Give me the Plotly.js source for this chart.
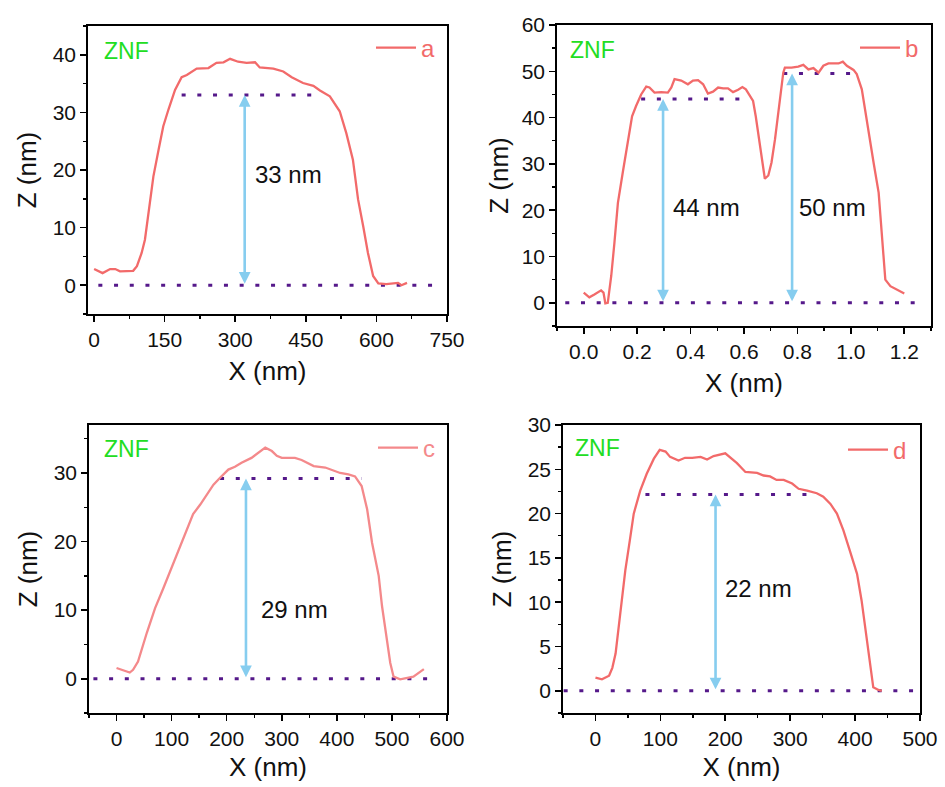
<!DOCTYPE html>
<html>
<head>
<meta charset="utf-8">
<script src="https://cdn.plot.ly/plotly-3.0.1.min.js"></script>
<style>html,body{margin:0;padding:0;background:#fff;}#chart{width:945px;height:787px;}</style>
</head>
<body>
<div id="chart"></div>
<script>
// ---------- Panel a ----------
const aX = [0, 18, 34, 45, 55, 83, 91, 101, 108, 115, 126, 137, 147, 158, 172, 186, 197, 218, 243, 260, 275, 289, 306, 324, 342, 352, 381, 402, 420, 444, 466, 480, 501, 522, 536, 550, 561, 572, 582, 593, 604, 621, 646, 653, 665];
const aZ = [2.8, 2.1, 2.8, 2.8, 2.4, 2.5, 3.3, 5.6, 7.9, 12.5, 18.9, 23.5, 27.6, 30.5, 33.9, 36.1, 36.5, 37.6, 37.7, 38.6, 38.7, 39.3, 38.8, 38.6, 38.7, 37.8, 37.6, 37.1, 36.1, 35.1, 34.6, 33.8, 32.8, 30.2, 26.4, 21.8, 14.9, 10.2, 5.6, 1.6, 0.3, 0.2, 0.4, 0.0, 0.4];
const aBaseX = [9, 727], aBaseZ = [0, 0];
const aTopX = [186, 466], aTopZ = [33, 33];
const aArrowX = [320], aArrowLow = [0], aArrowHigh = [33];
const aLabel = ['33 nm'], aLabelX = [338], aLabelZ = [19.2];
const aZnfX = [16], aZnfZ = [40.6];

// ---------- Panel b ----------
const bX = [0.0, 0.021, 0.04, 0.065, 0.074, 0.081, 0.09, 0.103, 0.115, 0.128, 0.146, 0.165, 0.181, 0.196, 0.215, 0.234, 0.246, 0.265, 0.29, 0.315, 0.328, 0.34, 0.365, 0.39, 0.409, 0.428, 0.447, 0.465, 0.484, 0.503, 0.522, 0.54, 0.559, 0.578, 0.594, 0.607, 0.622, 0.634, 0.644, 0.657, 0.672, 0.678, 0.691, 0.703, 0.716, 0.728, 0.747, 0.753, 0.778, 0.803, 0.822, 0.841, 0.86, 0.879, 0.897, 0.916, 0.935, 0.954, 0.97, 0.985, 1.01, 1.022, 1.041, 1.06, 1.085, 1.104, 1.116, 1.129, 1.148, 1.173, 1.2];
const bZ = [2.2, 1.2, 1.8, 2.7, 2.2, -0.1, 0.0, 5.8, 13.0, 21.6, 28.1, 34.6, 40.3, 42.5, 45.0, 46.7, 46.5, 45.4, 45.5, 45.4, 46.5, 48.3, 48.0, 47.2, 48.0, 48.1, 47.2, 45.2, 45.6, 46.5, 46.3, 46.3, 45.5, 46.0, 46.6, 46.1, 44.7, 43.6, 40.3, 35.3, 29.5, 26.8, 27.5, 30.3, 35.3, 41.1, 49.7, 50.8, 50.8, 51.0, 51.4, 50.4, 50.7, 49.7, 51.2, 51.7, 51.7, 51.7, 52.1, 51.2, 50.3, 49.4, 46.1, 38.9, 30.3, 23.8, 15.1, 5.0, 3.6, 2.9, 2.0];
const bBaseX = [-0.069, 1.25], bBaseZ = [0, 0];
const bTop1X = [0.215, 0.607], bTop1Z = [44, 44];
const bTop2X = [0.747, 1.017], bTop2Z = [49.5, 49.5];
const bArrowX = [0.297, 0.78], bArrowLow = [0, 0], bArrowHigh = [44, 49.5];
const bLabel = ['44 nm', '50 nm'], bLabelX = [0.325, 0.797], bLabelZ = [20.5, 20.5];
const bZnfX = [-0.06], bZnfZ = [54.7];

// ---------- Panel c ----------
const cX = [0, 12, 24, 30, 39, 55, 70, 85, 100, 115, 127, 139, 152, 164, 176, 188, 203, 215, 227, 245, 258, 270, 282, 291, 300, 324, 336, 358, 379, 397, 406, 421, 433, 445, 455, 464, 476, 482, 491, 497, 503, 515, 539, 548, 558];
const cZ = [1.56, 1.2, 0.9, 1.3, 2.5, 6.7, 10.3, 13.2, 16.2, 19.3, 21.8, 24.0, 25.4, 26.9, 28.3, 29.3, 30.5, 30.9, 31.5, 32.2, 33.0, 33.7, 33.2, 32.5, 32.2, 32.2, 31.9, 31.0, 30.8, 30.2, 30.0, 29.8, 29.5, 28.1, 24.7, 19.8, 15.0, 10.6, 5.2, 2.3, 0.3, -0.1, 0.3, 0.8, 1.4];
const cBaseX = [-42, 570], cBaseZ = [0, 0];
const cTopX = [188, 445], cTopZ = [29.2, 29.2];
const cArrowX = [235], cArrowLow = [0], cArrowHigh = [29.2];
const cLabel = ['29 nm'], cLabelX = [258], cLabelZ = [10.1];
const cZnfX = [-27], cZnfZ = [33.5];

// ---------- Panel d ----------
const dX = [0, 10, 21, 26, 31, 36, 41, 46, 53, 59, 69, 79, 90, 99, 108, 115, 128, 138, 149, 162, 172, 182, 200, 210, 218, 231, 249, 259, 269, 279, 290, 303, 313, 326, 341, 351, 362, 372, 382, 392, 403, 410, 418, 423, 428, 436, 441];
const dZ = [1.5, 1.3, 1.7, 2.6, 4.2, 7.2, 10.2, 13.6, 17.0, 20.0, 22.6, 24.5, 26.2, 27.2, 27.0, 26.4, 26.0, 26.3, 26.3, 26.4, 26.1, 26.5, 26.8, 26.2, 25.7, 24.7, 24.6, 24.3, 24.2, 23.8, 23.8, 23.4, 22.8, 22.6, 22.3, 21.9, 21.1, 20.0, 18.1, 15.8, 13.2, 10.2, 5.7, 2.6, 0.4, 0.1, 0.0];
const dBaseX = [-49, 495], dBaseZ = [0, 0];
const dTopX = [77, 328], dTopZ = [22.15, 22.15];
const dArrowX = [185], dArrowLow = [0], dArrowHigh = [22.15];
const dLabel = ['22 nm'], dLabelX = [196], dLabelZ = [11.5];
const dZnfX = [-34], dZnfZ = [27.4];

const legendNames = ['a', 'b', 'c', 'd'];

// ---------- styles ----------
const FONT = 'Arial, "Liberation Sans", sans-serif';
const RED = '#f26a6a';
const PINK = '#f4898b';
const PURPLE = '#55198a';
const SKY = '#86cdef';
const GREEN = '#22dd22';

const traces = [];
const annotations = [];

function addPanel(k, xs, zs, color, dotted, arrowX, lo, hi, labels, lx, lz, znfX, znfZ) {
  const xa = k === 1 ? 'x' : 'x' + k;
  const ya = k === 1 ? 'y' : 'y' + k;
  const lg = k === 1 ? 'legend' : 'legend' + k;
  dotted.forEach(d => {
    traces.push({x: d[0], y: d[1], xaxis: xa, yaxis: ya, mode: 'lines', showlegend: false, hoverinfo: 'skip',
      line: {color: PURPLE, width: 3, dash: '4px,11.7px'}});
  });
  traces.push({x: xs, y: zs, xaxis: xa, yaxis: ya, mode: 'lines', name: legendNames[k-1], legend: lg,
    line: {color: color, width: 2.3}});
  for (let i = 0; i < arrowX.length; i++) {
    annotations.push({xref: xa, yref: ya, axref: xa, ayref: ya, x: arrowX[i], y: hi[i], ax: arrowX[i], ay: lo[i],
      text: '', showarrow: true, arrowside: 'end+start', arrowhead: 2, startarrowhead: 2,
      arrowsize: 0.9, startarrowsize: 0.9, arrowwidth: 2.6, arrowcolor: SKY, standoff: 0, startstandoff: 0});
  }
  for (let i = 0; i < labels.length; i++) {
    annotations.push({xref: xa, yref: ya, x: lx[i], y: lz[i], text: labels[i], showarrow: false,
      xanchor: 'left', yanchor: 'middle', font: {family: FONT, size: 24, color: '#111'}});
  }
  annotations.push({xref: xa, yref: ya, x: znfX[0], y: znfZ[0], text: 'ZNF', showarrow: false,
    xanchor: 'left', yanchor: 'middle', font: {family: FONT, size: 23, color: GREEN}});
}

addPanel(1, aX, aZ, RED, [[aBaseX, aBaseZ], [aTopX, aTopZ]], aArrowX, aArrowLow, aArrowHigh, aLabel, aLabelX, aLabelZ, aZnfX, aZnfZ);
addPanel(2, bX, bZ, RED, [[bBaseX, bBaseZ], [bTop1X, bTop1Z], [bTop2X, bTop2Z]], bArrowX, bArrowLow, bArrowHigh, bLabel, bLabelX, bLabelZ, bZnfX, bZnfZ);
addPanel(3, cX, cZ, PINK, [[cBaseX, cBaseZ], [cTopX, cTopZ]], cArrowX, cArrowLow, cArrowHigh, cLabel, cLabelX, cLabelZ, cZnfX, cZnfZ);
addPanel(4, dX, dZ, RED, [[dBaseX, dBaseZ], [dTopX, dTopZ]], dArrowX, dArrowLow, dArrowHigh, dLabel, dLabelX, dLabelZ, dZnfX, dZnfZ);

const W = 945, H = 787;
function dx(l, r) { return [l / W, r / W]; }
function dy(t, b) { return [1 - b / H, 1 - t / H]; }

function axis(domain, range, dtick, minor, title, anchor, standoff, extra) {
  return Object.assign({
    domain: domain, range: range, dtick: dtick, tick0: 0, anchor: anchor,
    showline: true, mirror: true, linecolor: '#000', linewidth: 1.8,
    ticks: 'outside', ticklen: 6, tickwidth: 1.6, tickcolor: '#000',
    minor: {dtick: minor, ticks: 'outside', ticklen: 3.5, tickwidth: 1.4, tickcolor: '#000', showgrid: false},
    showgrid: false, zeroline: false, automargin: false,
    tickfont: {family: FONT, size: 21, color: '#111'},
    title: {text: title, font: {family: FONT, size: 26, color: '#111'}, standoff: standoff}
  }, extra || {});
}

function legend(xr, yc, color) {
  return {x: xr / W, y: 1 - yc / H, xanchor: 'right', yanchor: 'middle', bgcolor: 'rgba(0,0,0,0)',
    borderwidth: 0, font: {family: FONT, size: 24, color: color}, itemwidth: 40, tracegroupgap: 0};
}

const layout = {
  width: W, height: H, margin: {l: 0, r: 0, t: 0, b: 0},
  paper_bgcolor: '#fff', plot_bgcolor: '#fff', showlegend: true,
  xaxis: axis(dx(88, 447), [-13, 750], 150, 75, 'X (nm)', 'y', 12),
  yaxis: axis(dy(26, 314), [-5, 45], 10, 5, 'Z (nm)', 'x', 8),
  xaxis2: axis(dx(557, 931), [-0.1, 1.3], 0.2, 0.1, 'X (nm)', 'y2', 12, {tickformat: '.1f'}),
  yaxis2: axis(dy(25, 326), [-5, 60], 10, 5, 'Z (nm)', 'x2', 5),
  xaxis3: axis(dx(89, 447), [-50, 600], 100, 50, 'X (nm)', 'y3', 9),
  yaxis3: axis(dy(425, 713), [-5, 37], 10, 5, 'Z (nm)', 'x3', 8),
  xaxis4: axis(dx(563, 920), [-50, 500], 100, 50, 'X (nm)', 'y4', 9),
  yaxis4: axis(dy(425, 713), [-2.5, 30], 5, 2.5, 'Z (nm)', 'x4', 8),
  legend: legend(440, 48, RED),
  legend2: legend(924, 48, RED),
  legend3: legend(440, 448, PINK),
  legend4: legend(912, 450, RED),
  annotations: annotations
};

Plotly.newPlot('chart', traces, layout, {displayModeBar: false, staticPlot: true});
</script>
</body>
</html>
